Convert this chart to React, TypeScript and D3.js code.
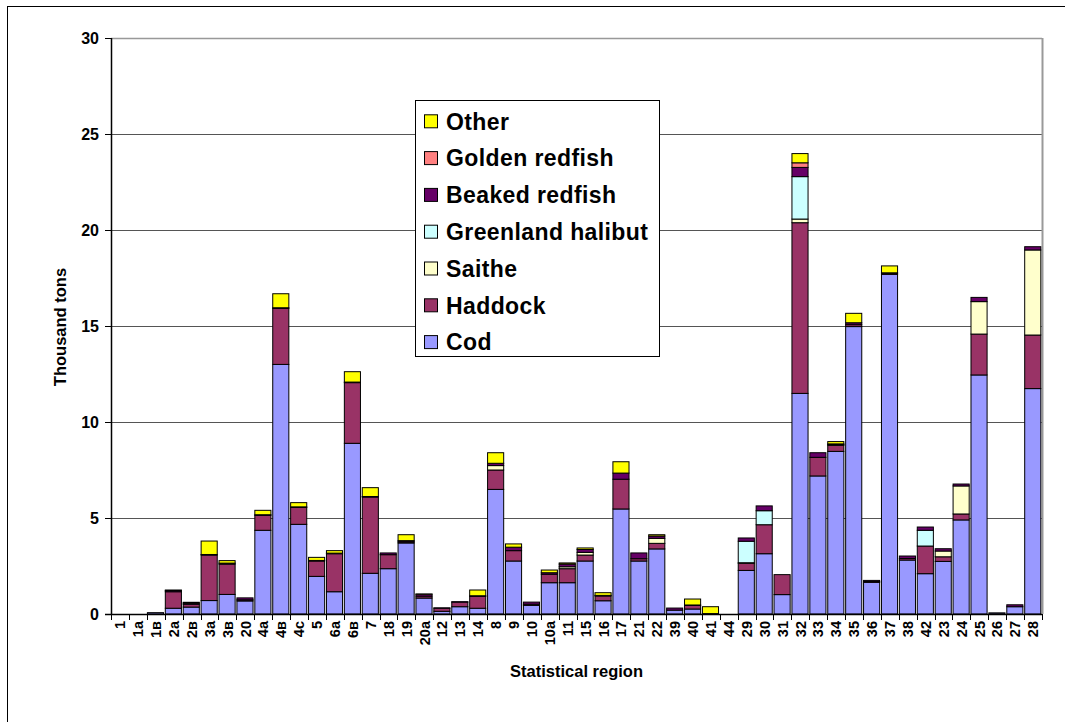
import React, { useEffect, useRef } from "react";
import * as d3 from "d3";

const categories = ["1","1a","1в","2a","2в","3a","3в","20","4a","4в","4c","5","6a","6в","7","18","19","20a","12","13","14","8","9","10","10a","11","15","16","17","21","22","39","40","41","44","29","30","31","32","33","34","35","36","37","38","42","23","24","25","26","27","28"];

const cod = [0,0,0.07,0.3,0.36,0.7,1.02,0.68,4.36,13.0,4.67,1.96,1.16,8.89,2.12,2.36,3.7,0.83,0.14,0.38,0.3,6.49,2.76,0.45,1.63,1.63,2.76,0.69,5.47,2.76,3.39,0.2,0.26,0.02,0,2.27,3.14,1.01,11.49,7.19,8.47,14.97,1.65,17.69,2.81,2.1,2.74,4.9,12.45,0.06,0.38,11.74];
const haddock = [0,0,0,0.86,0.15,2.37,1.58,0.06,0.78,2.92,0.88,0.8,1.98,3.16,3.97,0.73,0.06,0.1,0.16,0.24,0.62,1.01,0.54,0.06,0.44,0.73,0.31,0.25,1.55,0.12,0.29,0,0.19,0,0,0.37,1.51,1.04,8.89,0.97,0.31,0.1,0.04,0.06,0.08,1.44,0.24,0.31,2.13,0,0,2.79];
const saithe = [0,0,0,0,0,0,0,0,0,0,0,0,0,0,0,0,0,0,0,0,0,0.23,0,0,0,0.1,0.14,0,0,0,0.26,0,0,0,0,0.03,0,0,0.19,0,0.05,0,0,0,0,0,0.3,1.46,1.69,0,0,4.43];
const greenland = [0,0,0,0,0,0,0,0,0,0,0,0,0,0,0,0,0,0,0,0,0,0,0,0,0,0,0,0,0,0,0,0,0,0,0,1.12,0.73,0,2.21,0,0,0,0,0,0,0.82,0,0,0,0,0,0];
const beaked = [0,0,0,0.06,0.06,0.03,0.05,0.1,0.03,0.03,0.03,0.03,0.03,0.03,0.03,0.09,0.06,0.1,0.02,0.02,0.03,0.12,0.18,0.11,0.08,0.14,0.15,0.03,0.32,0.3,0.12,0.11,0.02,0,0,0.17,0.25,0,0.48,0.24,0.03,0.1,0.06,0.02,0.13,0.17,0.12,0.1,0.22,0,0.1,0.17];
const golden = [0,0,0,0,0,0,0,0,0,0,0,0,0,0,0,0,0,0,0,0,0,0,0,0,0,0,0,0,0,0,0,0,0,0,0,0,0,0,0.24,0,0,0,0,0,0,0,0,0,0,0,0,0];
const other = [0,0,0,0.03,0.04,0.7,0.13,0,0.23,0.73,0.22,0.16,0.13,0.54,0.46,0,0.31,0.01,0,0,0.3,0.55,0.17,0,0.14,0.06,0.08,0.14,0.59,0,0.07,0,0.31,0.36,0,0,0,0,0.48,0,0.12,0.49,0,0.36,0,0,0,0,0,0,0,0];

const seriesNames = ["Cod","Haddock","Saithe","Greenland halibut","Beaked redfish","Golden redfish","Other"];
const seriesValues = [cod, haddock, saithe, greenland, beaked, golden, other];
const seriesColors = ["#9999FF","#993366","#FFFFCC","#CCFFFF","#660066","#FF8080","#FFFF00"];
const yTicks = [0,5,10,15,20,25,30];

export default function App() {
  const ref = useRef<SVGSVGElement>(null);
  useEffect(() => {
    const svg = d3.select(ref.current);
    svg.selectAll("*").remove();
    const W = 1065, H = 722;
    const left = 111, right = 1042, top = 38, bottom = 614;
    const font = "Arial, 'Liberation Sans', sans-serif";

    svg.append("rect").attr("x", 7.5).attr("y", 6.5).attr("width", W + 20).attr("height", H + 20)
      .attr("fill", "white").attr("stroke", "#000").attr("stroke-width", 1);

    const x = d3.scaleBand<string>().domain(categories).range([left, right]).padding(0);
    const y = d3.scaleLinear().domain([0, 30]).range([bottom, top]);

    svg.append("g").selectAll("line").data(yTicks.filter(t => t > 0 && t < 30)).join("line")
      .attr("x1", left).attr("x2", right).attr("y1", d => Math.round(y(d)) + 0.5).attr("y2", d => Math.round(y(d)) + 0.5)
      .attr("stroke", "#555").attr("stroke-width", 1);
    svg.append("line").attr("x1", left).attr("x2", right).attr("y1", top + 0.5).attr("y2", top + 0.5)
      .attr("stroke", "#999").attr("stroke-width", 1.5);
    svg.append("line").attr("x1", right + 0.5).attr("x2", right + 0.5).attr("y1", top).attr("y2", bottom)
      .attr("stroke", "#999").attr("stroke-width", 2);

    const table = categories.map((c, i) => {
      const o: any = { cat: c };
      seriesNames.forEach((n, k) => { o[n] = seriesValues[k][i]; });
      return o;
    });
    const stacked = d3.stack<any>().keys(seriesNames)(table);
    const bw = x.bandwidth();
    stacked.forEach((s, k) => {
      svg.append("g").selectAll("rect").data(s.filter(d => d[1] - d[0] > 0)).join("rect")
        .attr("x", d => (x(d.data.cat) as number) + 0.6)
        .attr("width", bw - 1.8)
        .attr("y", d => y(d[1]))
        .attr("height", d => y(d[0]) - y(d[1]))
        .attr("fill", seriesColors[k])
        .attr("stroke", "#000").attr("stroke-width", 1);
    });

    svg.append("line").attr("x1", left + 0.5).attr("x2", left + 0.5).attr("y1", top).attr("y2", bottom)
      .attr("stroke", "#000").attr("stroke-width", 1.5);
    svg.append("line").attr("x1", left - 6).attr("x2", right).attr("y1", bottom + 0.5).attr("y2", bottom + 0.5)
      .attr("stroke", "#000").attr("stroke-width", 1.5);
    svg.append("g").selectAll("line").data(yTicks).join("line")
      .attr("x1", left - 6).attr("x2", left).attr("y1", d => Math.round(y(d)) + 0.5).attr("y2", d => Math.round(y(d)) + 0.5)
      .attr("stroke", "#000");
    svg.append("g").selectAll("text").data(yTicks).join("text")
      .attr("x", 99).attr("y", d => y(d)).attr("dy", "0.35em").attr("text-anchor", "end")
      .attr("font-family", font).attr("font-weight", "bold").attr("font-size", 16).text(d => d);

    const bounds = categories.map(c => x(c) as number).concat([right]);
    svg.append("g").selectAll("line").data(bounds).join("line")
      .attr("x1", d => Math.round(d) + 0.5).attr("x2", d => Math.round(d) + 0.5).attr("y1", bottom).attr("y2", bottom + 6)
      .attr("stroke", "#000");
    svg.append("g").selectAll("text").data(categories).join("text")
      .attr("transform", d => `translate(${(x(d) as number) + bw / 2},${bottom + 7}) rotate(-90)`)
      .attr("dy", "0.36em").attr("text-anchor", "end")
      .attr("font-family", font).attr("font-weight", "bold").attr("font-size", 14.5).text(d => d);

    svg.append("text").attr("x", (left + right) / 2).attr("y", 677).attr("text-anchor", "middle")
      .attr("font-family", font).attr("font-weight", "bold").attr("font-size", 16.5).text("Statistical region");
    svg.append("text").attr("transform", `translate(66,${(top + bottom) / 2 + 1}) rotate(-90)`).attr("text-anchor", "middle")
      .attr("font-family", font).attr("font-weight", "bold").attr("font-size", 16.5).text("Thousand tons");

    const lg = svg.append("g");
    lg.append("rect").attr("x", 415.5).attr("y", 100.5).attr("width", 244).attr("height", 256)
      .attr("fill", "white").attr("stroke", "#000").attr("stroke-width", 1);
    const order = seriesNames.map((n, k) => k).reverse();
    order.forEach((k, j) => {
      const cy = 121.3 + j * 36.8;
      lg.append("rect").attr("x", 424.5).attr("y", cy - 6.5).attr("width", 13).attr("height", 13)
        .attr("fill", seriesColors[k]).attr("stroke", "#000");
      lg.append("text").attr("x", 446).attr("y", cy).attr("dy", "0.36em")
        .attr("font-family", font).attr("font-weight", "bold").attr("font-size", 23).attr("letter-spacing", 0.4)
        .text(seriesNames[k]);
    });
  }, []);
  return (
    <div style={{ position: "absolute", left: 0, top: 0 }}>
      <svg ref={ref} width={1065} height={722} style={{ display: "block" }} />
    </div>
  );
}
